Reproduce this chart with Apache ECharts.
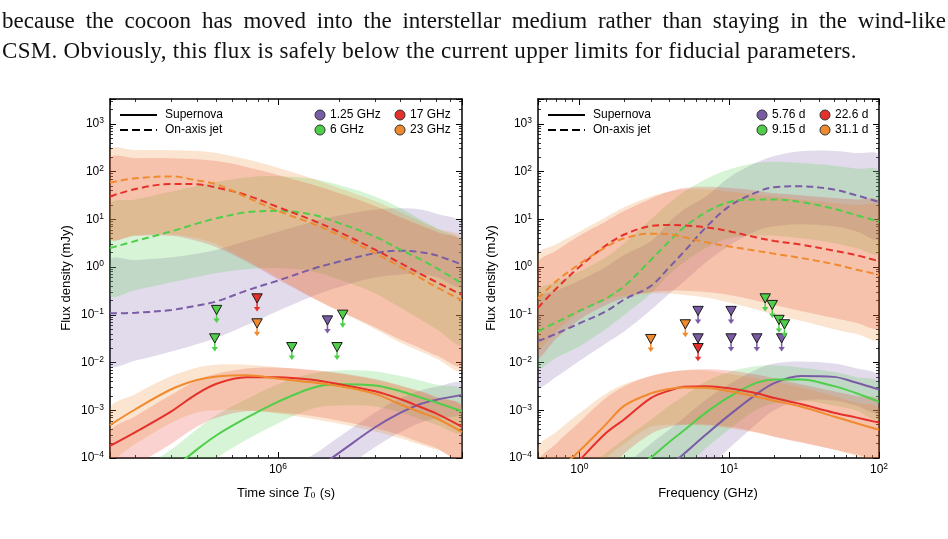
<!DOCTYPE html>
<html>
<head>
<meta charset="utf-8">
<script src="https://cdn.jsdelivr.net/npm/echarts@6/dist/echarts.min.js"></script>
<style>
  html, body { margin: 0; padding: 0; background: #fff; }
  #wrap { position: relative; width: 948px; height: 539px; overflow: hidden; }
  #chart { position: absolute; left: 0; top: 0; width: 948px; height: 539px; }
  .txt { position: absolute; left: 2px; width: 944px; font-family: 'Liberation Serif', 'Times New Roman', serif;
         font-size: 23px; line-height: 26px; letter-spacing: 0.3px; color: #111; white-space: nowrap; }
  #l1 { top: 8px; text-align: justify; text-align-last: justify; white-space: normal; letter-spacing: 0; }
  #l2 { top: 38px; }
</style>
</head>
<body>
<div id="wrap">
  <div id="chart"></div>
  <div class="txt" id="l1">because the cocoon has moved into the interstellar medium rather than staying in the wind-like</div>
  <div class="txt" id="l2">CSM. Obviously, this flux is safely below the current upper limits for fiducial parameters.</div>
</div>
<script>
// ---- left panel: light curves vs time since T0 (s), flux in mJy ----
const times = [1.5e5, 2e5, 3e5, 4e5, 5e5, 7e5, 1e6, 1.5e6, 2e6, 3e6, 4e6, 5e6, 6e6, 8e6];

// on-axis jet (dashed)
const jetT125 = [0.107, 0.11, 0.126, 0.155, 0.19, 0.32, 0.52, 0.93, 1.3, 1.95, 2.2, 2.05, 1.75, 1.12];
const jetT6   = [2.5, 3.5, 5.6, 8.1, 10.5, 14, 15, 12.3, 8.3, 4.3, 2.3, 1.45, 0.95, 0.45];
const jetT17  = [30, 43, 55, 54, 46, 32, 18, 9.3, 5.4, 2.3, 1.2, 0.72, 0.48, 0.26];
const jetT23  = [59, 72, 79, 65, 54, 29, 15, 7.9, 4.6, 1.95, 1.0, 0.59, 0.38, 0.20];
const jetT125Hi = [1.35, 1.4, 1.6, 1.9, 2.3, 3.5, 5.5, 9, 12, 16, 17, 16, 13, 8];
const jetT125Lo = [0.009, 0.011, 0.017, 0.024, 0.033, 0.06, 0.12, 0.25, 0.38, 0.6, 0.7, 0.7, 0.62, 0.4];
const jetT6Hi  = [20, 26, 38, 50, 60, 75, 80, 70, 52, 30, 17, 10, 6.5, 3.2];
const jetT6Lo  = [0.26, 0.33, 0.48, 0.62, 0.75, 0.9, 0.95, 0.8, 0.55, 0.28, 0.14, 0.08, 0.05, 0.025];
const jetT17Hi = [185, 190, 190, 180, 165, 125, 85, 52, 35, 19, 11, 7.5, 5.5, 3.2];
const jetT17Lo = [4, 4.5, 4.5, 3.5, 2.6, 1.3, 0.55, 0.22, 0.12, 0.055, 0.03, 0.02, 0.014, 0.009];
const jetT23Hi = [275, 280, 280, 270, 245, 180, 120, 70, 45, 24, 14, 9, 6.5, 3.8];
const jetT23Lo = [4, 4.6, 4.8, 4, 3, 1.4, 0.6, 0.22, 0.12, 0.05, 0.026, 0.017, 0.012, 0.007];

// supernova (solid)
const snT125 = [1e-7, 2.5e-7, 1e-6, 2.5e-6, 5e-6, 1.26e-5, 2.5e-5, 5.6e-5, 1.3e-4, 4.4e-4, 8.9e-4, 1.35e-3, 1.66e-3, 2.1e-3];
const snT6   = [6.3e-6, 1.6e-5, 5.6e-5, 1.5e-4, 3e-4, 6.9e-4, 1.5e-3, 3e-3, 3.5e-3, 3.3e-3, 2.5e-3, 1.85e-3, 1.45e-3, 9.5e-4];
const snT17  = [1.8e-4, 3.5e-4, 9.5e-4, 2.2e-3, 3.6e-3, 4.9e-3, 4.9e-3, 4.3e-3, 3.5e-3, 2.5e-3, 1.7e-3, 1.17e-3, 8.5e-4, 4.5e-4];
const snT23  = [4.9e-4, 1.05e-3, 2.75e-3, 4.3e-3, 5.1e-3, 5.4e-3, 4.6e-3, 3.8e-3, 3.2e-3, 2.2e-3, 1.32e-3, 9.1e-4, 6.8e-4, 3.5e-4];
const snT125Hi = [2e-7, 5e-7, 2e-6, 5e-6, 1e-5, 2.5e-5, 5e-5, 1.2e-4, 2.8e-4, 9e-4, 1.8e-3, 2.6e-3, 3.1e-3, 3.7e-3];
const snT125Lo = [4e-8, 1e-7, 4e-7, 1e-6, 2e-6, 5e-6, 1e-5, 2.2e-5, 5e-5, 1.7e-4, 3.5e-4, 5.5e-4, 6.8e-4, 8.7e-4];
const snT6Hi  = [2e-5, 5e-5, 1.5e-4, 4e-4, 8e-4, 1.7e-3, 3.5e-3, 6e-3, 6.8e-3, 6.5e-3, 5.2e-3, 4.2e-3, 3.4e-3, 2.6e-3];
const snT6Lo  = [2e-6, 5e-6, 2e-5, 5e-5, 1e-4, 2.4e-4, 5.3e-4, 1.1e-3, 1.25e-3, 1.2e-3, 9e-4, 6.5e-4, 5e-4, 3.4e-4];
const snT17Hi = [3.5e-4, 7.5e-4, 2.1e-3, 4.2e-3, 5.8e-3, 7.5e-3, 7.8e-3, 7e-3, 6e-3, 4.5e-3, 3.3e-3, 2.5e-3, 1.9e-3, 1.2e-3];
const snT17Lo = [3e-5, 7e-5, 2e-4, 4.5e-4, 7e-4, 9.5e-4, 9e-4, 7.5e-4, 6e-4, 4.2e-4, 3e-4, 2.1e-4, 1.6e-4, 9e-5];
const snT23Hi = [1.1e-3, 2.2e-3, 5.2e-3, 7.8e-3, 9e-3, 9e-3, 8e-3, 6.8e-3, 5.8e-3, 4.3e-3, 3.2e-3, 2.4e-3, 1.8e-3, 1.2e-3];
const snT23Lo = [1e-4, 2e-4, 5.5e-4, 9e-4, 1e-3, 1e-3, 8.5e-4, 6.5e-4, 5.2e-4, 3.6e-4, 2.6e-4, 1.9e-4, 1.5e-4, 1.05e-4];

// upper limits [time, flux]
const limT125 = [[1.75e6, 0.076]];
const limT6   = [[5.0e5, 0.126], [4.9e5, 0.032], [1.17e6, 0.021], [2.08e6, 0.1], [1.95e6, 0.021]];
const limT17  = [[7.9e5, 0.22]];
const limT23  = [[7.9e5, 0.066]];

// ---- right panel: spectra vs frequency (GHz) ----
const freqs = [0.53, 0.7, 1, 1.5, 2, 3, 4, 5, 7, 10, 15, 20, 30, 50, 70, 100];

const jetF576 = [0.028, 0.040, 0.066, 0.117, 0.21, 0.40, 1.0, 2.1, 6.8, 18.6, 36, 47, 49, 42, 32, 23];
const jetF915 = [0.045, 0.069, 0.12, 0.22, 0.40, 1.4, 3.5, 6.8, 14, 23, 26, 26, 23, 16.6, 12.3, 8.9];
const jetF226 = [0.14, 0.35, 1.0, 2.8, 4.8, 7.2, 7.6, 7.4, 6.8, 5.6, 4.2, 3.5, 2.95, 2.2, 1.78, 1.32];
const jetF311 = [0.22, 0.5, 1.15, 2.6, 4.0, 5.0, 4.8, 4.2, 3.3, 2.7, 2.2, 1.9, 1.55, 1.15, 0.89, 0.69];
const jetF576Hi = [0.22, 0.32, 0.52, 1.0, 1.8, 3.5, 8.9, 16, 30, 75, 150, 210, 265, 270, 245, 214];
const jetF576Lo = [0.0032, 0.005, 0.0107, 0.025, 0.045, 0.126, 0.28, 0.5, 1.26, 2.8, 5.6, 7.1, 7.9, 7.1, 5.6, 4];
const jetF915Hi = [0.32, 0.48, 0.8, 1.6, 3.2, 10, 22, 38, 70, 110, 150, 160, 150, 132, 115, 100];
const jetF915Lo = [0.0078, 0.0126, 0.022, 0.05, 0.1, 0.28, 0.71, 1.26, 2.5, 4, 4.5, 4.5, 4, 3.2, 2.5, 2];
const jetF226Hi = [1.2, 2.2, 4.5, 9, 15, 27, 38, 45, 48, 45, 40, 35, 32, 28, 26, 23];
const jetF226Lo = [0.0132, 0.0316, 0.079, 0.158, 0.224, 0.3, 0.32, 0.32, 0.3, 0.26, 0.2, 0.16, 0.12, 0.085, 0.068, 0.056];
const jetF311Hi = [1.8, 3, 5.5, 11, 18, 30, 38, 42, 42, 38, 33, 30, 26, 22, 20, 18];
const jetF311Lo = [0.02, 0.045, 0.112, 0.2, 0.25, 0.28, 0.28, 0.26, 0.23, 0.18, 0.13, 0.1, 0.075, 0.05, 0.04, 0.032];

const snF576 = [3.2e-7, 6.3e-7, 1.6e-6, 5e-6, 1.1e-5, 3.2e-5, 6.8e-5, 1.23e-4, 3.1e-4, 7.9e-4, 2.1e-3, 3.7e-3, 5.2e-3, 5e-3, 3.8e-3, 2.7e-3];
const snF915 = [1e-6, 2.5e-6, 6.3e-6, 2e-5, 4e-5, 1.02e-4, 2.2e-4, 3.8e-4, 8.9e-4, 1.9e-3, 3.7e-3, 4.4e-3, 4.4e-3, 3.2e-3, 2.3e-3, 1.5e-3];
const snF226 = [1e-5, 2.8e-5, 8.9e-5, 3.3e-4, 6.5e-4, 1.8e-3, 2.6e-3, 3.1e-3, 3.2e-3, 2.9e-3, 2.3e-3, 1.8e-3, 1.35e-3, 8.9e-4, 7.1e-4, 5.5e-4];
const snF311 = [2e-5, 5e-5, 1.4e-4, 5e-4, 1.25e-3, 2.25e-3, 2.8e-3, 3e-3, 2.95e-3, 2.5e-3, 1.95e-3, 1.58e-3, 1.2e-3, 7.4e-4, 5.4e-4, 3.9e-4];
const snF576Hi = [2e-6, 4e-6, 1e-5, 3.2e-5, 7e-5, 2e-4, 4e-4, 7e-4, 1.66e-3, 3.5e-3, 7e-3, 9.5e-3, 1.05e-2, 9.5e-3, 7.6e-3, 5.2e-3];
const snF576Lo = [4e-8, 8e-8, 2e-7, 6.3e-7, 1.6e-6, 5e-6, 1.1e-5, 2e-5, 5.6e-5, 1.6e-4, 5e-4, 1e-3, 1.6e-3, 1.6e-3, 1.26e-3, 9e-4];
const snF915Hi = [7.9e-6, 1.8e-5, 4.5e-5, 1.26e-4, 2.5e-4, 6.3e-4, 1.26e-3, 2e-3, 4e-3, 6.3e-3, 8.3e-3, 8.7e-3, 7.9e-3, 6.3e-3, 5e-3, 3.8e-3];
const snF915Lo = [1e-7, 3.2e-7, 8e-7, 3.2e-6, 6.3e-6, 1.6e-5, 3.5e-5, 6.3e-5, 1.6e-4, 4e-4, 1e-3, 1.4e-3, 1.6e-3, 1.26e-3, 1e-3, 6.3e-4];
const snF226Hi = [7.9e-5, 2e-4, 5.6e-4, 1.8e-3, 3.2e-3, 5.2e-3, 6.3e-3, 6.9e-3, 7.2e-3, 6.8e-3, 5.6e-3, 4.7e-3, 3.5e-3, 2.5e-3, 2e-3, 1.6e-3];
const snF226Lo = [1e-6, 3.2e-6, 1e-5, 5e-5, 1.26e-4, 3.2e-4, 4.5e-4, 5e-4, 5e-4, 4.5e-4, 3.5e-4, 2.8e-4, 2.1e-4, 1.5e-4, 1.2e-4, 1e-4];
const snF311Hi = [1.6e-4, 3.5e-4, 8.7e-4, 2.2e-3, 3.5e-3, 5.2e-3, 6.3e-3, 6.8e-3, 6.8e-3, 5.8e-3, 4.7e-3, 4e-3, 3e-3, 2e-3, 1.45e-3, 1.05e-3];
const snF311Lo = [4e-6, 1e-5, 2.8e-5, 1e-4, 2e-4, 4.5e-4, 5e-4, 5e-4, 4.8e-4, 4.2e-4, 3.4e-4, 2.8e-4, 2.2e-4, 1.5e-4, 1.1e-4, 8.3e-5];

// upper limits [frequency, flux]
const limF576 = [[6.2, 0.12], [6.2, 0.032], [10.3, 0.12], [10.3, 0.032], [15.3, 0.032], [22.4, 0.032]];
const limF915 = [[17.4, 0.22], [19.4, 0.16], [21.5, 0.078], [23.4, 0.063]];
const limF226 = [[6.2, 0.020]];
const limF311 = [[3.0, 0.031], [5.1, 0.063]];

// legend labels
const leftLabels = ['1.25 GHz', '6 GHz', '17 GHz', '23 GHz'];
const rightLabels = ['5.76 d', '9.15 d', '22.6 d', '31.1 d'];

const PURPLE = '#7a5ba6', GREEN = '#4fce4a', RED = '#e6302a', ORANGE = '#ef8a2e';
const FONT = 'Liberation Sans, Arial, sans-serif';
const BAND_ALPHA = 0.22;

function band(xs, lo, hi, color, ax) {
    return {
        type: 'custom', xAxisIndex: ax, yAxisIndex: ax, clip: true, silent: true, z: 1,
        data: [[xs[0], hi[0]]],
        renderItem: function (params, api) {
            const pts = [];
            for (let i = 0; i < xs.length; i++) pts.push(api.coord([xs[i], hi[i]]));
            for (let i = xs.length - 1; i >= 0; i--) pts.push(api.coord([xs[i], lo[i]]));
            return { type: 'polygon', shape: { points: pts, smooth: 0.35 },
                     style: { fill: color, opacity: BAND_ALPHA } };
        }
    };
}

function curve(xs, ys, color, dashed, ax) {
    return {
        type: 'line', xAxisIndex: ax, yAxisIndex: ax, silent: true, z: 3,
        data: xs.map((x, i) => [x, ys[i]]),
        smooth: 0.35, symbol: 'none', clip: true,
        lineStyle: { color: color, width: 2, type: dashed ? [7, 4] : 'solid' }
    };
}

function limits(pts, color, ax) {
    return {
        type: 'custom', xAxisIndex: ax, yAxisIndex: ax, silent: true, z: 5,
        data: pts,
        renderItem: function (params, api) {
            const c = api.coord([api.value(0), api.value(1)]);
            const x = c[0], y = c[1];
            return { type: 'group', children: [
                { type: 'line', shape: { x1: x, y1: y, x2: x, y2: y + 10 }, style: { stroke: color, lineWidth: 1.5 } },
                { type: 'polygon', shape: { points: [[x - 3.2, y + 8.5], [x + 3.2, y + 8.5], [x, y + 13]] }, style: { fill: color } },
                { type: 'polygon', shape: { points: [[x - 5.2, y - 4.6], [x + 5.2, y - 4.6], [x, y + 4.6]] },
                  style: { fill: color, stroke: '#1a1a1a', lineWidth: 1 } }
            ] };
        }
    };
}

function powLabel(v) {
    const e = Math.round(Math.log10(v));
    return '{b|10}{e|' + (e < 0 ? '\u2212' + (-e) : e) + '}';
}
const labelRich = {
    b: { fontSize: 12, fontFamily: FONT, color: '#000', lineHeight: 15 },
    e: { fontSize: 8.5, fontFamily: FONT, color: '#000', lineHeight: 9, verticalAlign: 'top' }
};

function axis(kind, grid, min, max, pos, showLabels, hideMin, hideMax) {
    return {
        type: 'log', logBase: 10, gridIndex: grid, min: min, max: max, position: pos,
        axisLine: { show: true, onZero: false, lineStyle: { color: '#000', width: 1.5 } },
        axisTick: { show: true, inside: true, length: 6, lineStyle: { color: '#000', width: 1 } },
        minorTick: { show: true, splitNumber: 9, length: 3, lineStyle: { color: '#000', width: 0.8 } },
        splitLine: { show: false }, minorSplitLine: { show: false },
        axisLabel: { show: showLabels, formatter: powLabel, rich: labelRich,
                     margin: kind === 'x' ? 4 : 6,
                     showMinLabel: !hideMin, showMaxLabel: !hideMax }
    };
}

const series = [];
function panel(xs, ax, rows) {
    rows.forEach(r => {
        series.push(band(xs, r.jetLo, r.jetHi, r.color, ax));
        series.push(band(xs, r.snLo, r.snHi, r.color, ax));
    });
    rows.forEach(r => {
        series.push(curve(xs, r.jet, r.color, true, ax));
        series.push(curve(xs, r.sn, r.color, false, ax));
    });
    rows.forEach(r => series.push(limits(r.lim, r.color, ax)));
}

panel(times, 0, [
    { color: PURPLE, jet: jetT125, jetLo: jetT125Lo, jetHi: jetT125Hi, sn: snT125, snLo: snT125Lo, snHi: snT125Hi, lim: limT125 },
    { color: GREEN, jet: jetT6, jetLo: jetT6Lo, jetHi: jetT6Hi, sn: snT6, snLo: snT6Lo, snHi: snT6Hi, lim: limT6 },
    { color: RED, jet: jetT17, jetLo: jetT17Lo, jetHi: jetT17Hi, sn: snT17, snLo: snT17Lo, snHi: snT17Hi, lim: limT17 },
    { color: ORANGE, jet: jetT23, jetLo: jetT23Lo, jetHi: jetT23Hi, sn: snT23, snLo: snT23Lo, snHi: snT23Hi, lim: limT23 }
]);
panel(freqs, 2, [
    { color: PURPLE, jet: jetF576, jetLo: jetF576Lo, jetHi: jetF576Hi, sn: snF576, snLo: snF576Lo, snHi: snF576Hi, lim: limF576 },
    { color: GREEN, jet: jetF915, jetLo: jetF915Lo, jetHi: jetF915Hi, sn: snF915, snLo: snF915Lo, snHi: snF915Hi, lim: limF915 },
    { color: RED, jet: jetF226, jetLo: jetF226Lo, jetHi: jetF226Hi, sn: snF226, snLo: snF226Lo, snHi: snF226Hi, lim: limF226 },
    { color: ORANGE, jet: jetF311, jetLo: jetF311Lo, jetHi: jetF311Hi, sn: snF311, snLo: snF311Lo, snHi: snF311Hi, lim: limF311 }
]);

// legend drawn as graphic elements
function legend(x0, labels) {
    const cols = [PURPLE, GREEN, RED, ORANGE];
    const txt = (x, y, s) => ({ type: 'text', x: x, y: y, silent: true,
        style: { text: s, fontSize: 12, fontFamily: FONT, fill: '#000', verticalAlign: 'middle', align: 'left' } });
    const els = [
        { type: 'line', silent: true, shape: { x1: x0 + 10, y1: 115, x2: x0 + 47, y2: 115 }, style: { stroke: '#000', lineWidth: 2 } },
        { type: 'line', silent: true, shape: { x1: x0 + 10, y1: 130, x2: x0 + 47, y2: 130 }, style: { stroke: '#000', lineWidth: 2, lineDash: [8, 4] } },
        txt(x0 + 55, 115, 'Supernova'),
        txt(x0 + 55, 130, 'On-axis jet')
    ];
    const cx = labels === leftLabels ? [x0 + 210, x0 + 290] : [x0 + 224, x0 + 287];
    [[0, 0], [1, 0], [0, 1], [1, 1]].forEach(([row, col]) => {
        const idx = col * 2 + row;
        const y = row === 0 ? 115 : 130;
        els.push({ type: 'circle', silent: true, shape: { cx: cx[col], cy: y, r: 5 },
                   style: { fill: cols[idx], stroke: '#333', lineWidth: 1 } });
        els.push(txt(cx[col] + 10, y, labels[idx]));
    });
    return els;
}

const titleStyle = { fontSize: 13, fontFamily: FONT, fill: '#000', align: 'center', verticalAlign: 'middle' };

const option = {
    backgroundColor: '#fff',
    animation: false,
    grid: [
        { left: 110, top: 99, width: 352, height: 359 },
        { left: 538, top: 99, width: 341, height: 359 }
    ],
    xAxis: [
        axis('x', 0, 1.5e5, 8e6, 'bottom', true, true, true),
        axis('x', 0, 1.5e5, 8e6, 'top', false, true, true),
        axis('x', 1, 0.53, 100, 'bottom', true, true, false),
        axis('x', 1, 0.53, 100, 'top', false, true, false)
    ],
    yAxis: [
        axis('y', 0, 1e-4, 3300, 'left', true, false, true),
        axis('y', 0, 1e-4, 3300, 'right', false, false, true),
        axis('y', 1, 1e-4, 3300, 'left', true, false, true),
        axis('y', 1, 1e-4, 3300, 'right', false, false, true)
    ],
    series: series,
    graphic: [].concat(
        legend(110, leftLabels),
        legend(538, rightLabels),
        [
            { type: 'text', x: 66, y: 278, rotation: Math.PI / 2, silent: true, style: Object.assign({ text: 'Flux density (mJy)' }, titleStyle) },
            { type: 'text', x: 491, y: 278, rotation: Math.PI / 2, silent: true, style: Object.assign({ text: 'Flux density (mJy)' }, titleStyle) },
            { type: 'text', x: 286, y: 493, silent: true, style: Object.assign({
                text: '{a|Time since }{t|T}{s|0}{a| (s)}',
                rich: {
                    a: { fontSize: 13, fontFamily: FONT, fill: '#000' },
                    t: { fontSize: 14, fontFamily: 'Liberation Serif, serif', fontStyle: 'italic', fill: '#000' },
                    s: { fontSize: 9, fontFamily: 'Liberation Serif, serif', fill: '#000', verticalAlign: 'bottom', padding: [6, 1, 0, 0] }
                } }, { align: 'center', verticalAlign: 'middle' }) },
            { type: 'text', x: 708, y: 493, silent: true, style: Object.assign({ text: 'Frequency (GHz)' }, titleStyle) }
        ]
    )
};

const chart = echarts.init(document.getElementById('chart'), null, { renderer: 'canvas' });
chart.setOption(option);
</script>
</body>
</html>
